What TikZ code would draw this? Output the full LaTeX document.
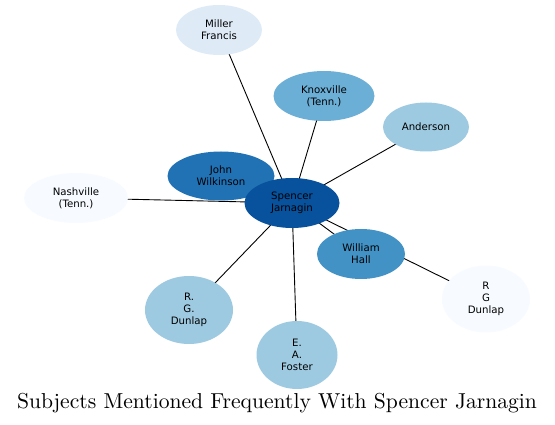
\documentclass[tikz,border=0pt]{standalone}
\usepackage{fontspec}
\newfontfamily\lblfont{DejaVu Sans}
\newfontfamily\titlefont{lmroman10-regular.otf}
\usetikzlibrary{shapes.geometric}
\pgfdeclarelayer{bg}
\pgfsetlayers{bg,main}
\definecolor{b1}{HTML}{F7FBFF}
\definecolor{b2}{HTML}{DEEBF7}
\definecolor{b4}{HTML}{9ECAE1}
\definecolor{b5}{HTML}{6BAED6}
\definecolor{b6}{HTML}{4292C6}
\definecolor{b7}{HTML}{2171B5}
\definecolor{b8}{HTML}{08519C}
\tikzset{
  ent/.style={ellipse, inner sep=0pt, align=center, text=black,
    font=\lblfont\fontsize{10.2}{11.7}\selectfont},
  link/.style={draw=black, line width=0.9pt}
}
\begin{document}
\begin{tikzpicture}[x=1pt,y=-1pt]
\path[use as bounding box] (0,0) rectangle (555,425);
\node[ent, fill=b2, minimum width=86pt, minimum height=50pt] (mf) at (219,30) {Miller\\Francis};
\node[ent, fill=b5, minimum width=101pt, minimum height=50pt] (kx) at (324,96) {Knoxville\\(Tenn.)};
\node[ent, fill=b4, minimum width=86pt, minimum height=49pt] (an) at (426,127) {Anderson};
\node[ent, fill=b7, minimum width=107pt, minimum height=49pt] (jw) at (221,176) {John\\Wilkinson};
\node[ent, fill=b1, minimum width=104pt, minimum height=50pt] (nv) at (76,198) {Nashville\\(Tenn.)};
\node[ent, fill=b8, minimum width=95pt, minimum height=50pt] (sj) at (292,203) {Spencer\\Jarnagin};
\node[ent, fill=b6, minimum width=88pt, minimum height=50pt] (wh) at (361,254) {William\\Hall};
\node[ent, fill=b1, minimum width=88pt, minimum height=67pt] (rgd) at (486,299) {R\\G\\Dunlap};
\node[ent, fill=b4, minimum width=88pt, minimum height=68pt] (rgd2) at (189,310) {R.\\G.\\Dunlap};
\node[ent, fill=b4, minimum width=81pt, minimum height=68pt] (ef) at (297,355) {E.\\A.\\Foster};
\node[anchor=base, font=\titlefont\fontsize{21.6}{25}\selectfont] (title) at (277,408) {Subjects Mentioned Frequently With Spencer Jarnagin};
\begin{pgfonlayer}{bg}
\fill[white] (0,0) rectangle (555,425);
\foreach \t in {mf,kx,an,jw,nv,wh,rgd,rgd2,ef}
  \draw[link] (sj.center) -- (\t.center);
\end{pgfonlayer}
\end{tikzpicture}
\end{document}
